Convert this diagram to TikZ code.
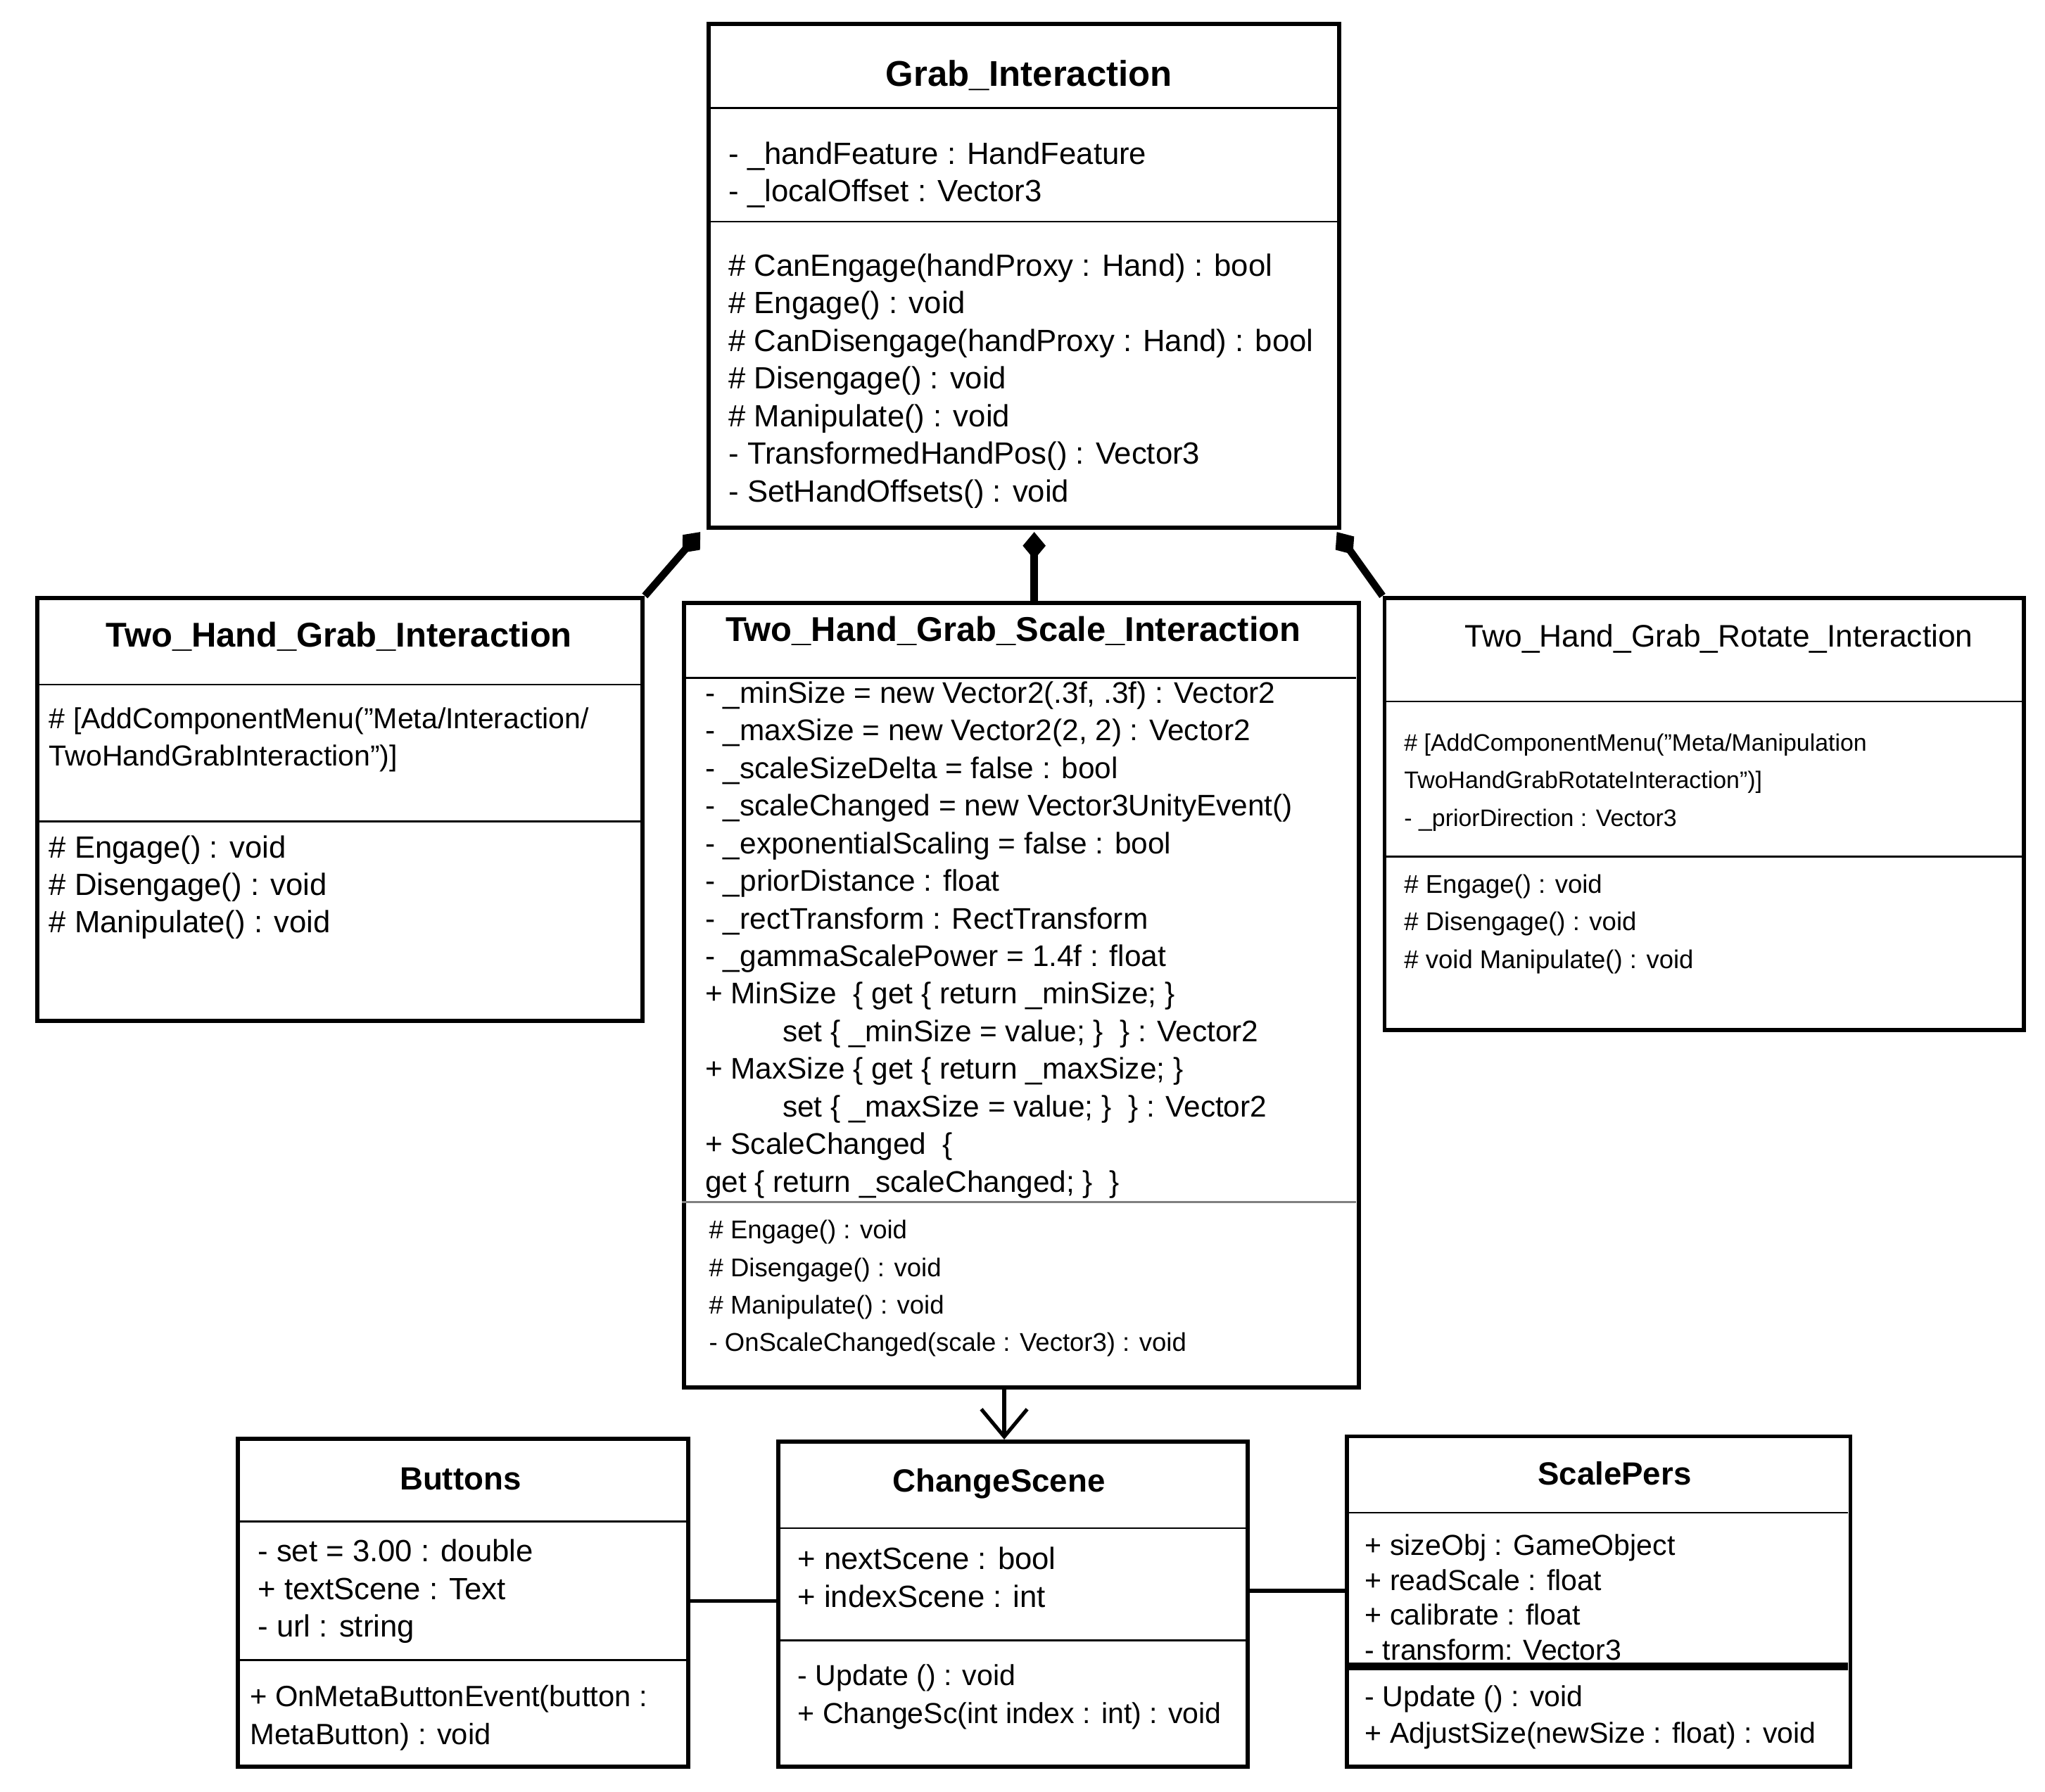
\documentclass[tikz,border=0pt]{standalone}
\usepackage{fontspec}
\setmainfont{Liberation Sans}
\usetikzlibrary{arrows.meta}
\begin{document}
\begin{tikzpicture}[x=0.01cm,y=-0.01cm,
    nodes={font=\fontsize{6.7}{8.2}\selectfont},
    box/.style={draw, line width=0.9pt, anchor=north west, inner sep=0pt},
    ttl/.style={font=\fontsize{7.8}{9}\selectfont\bfseries},
    txt/.style={anchor=north west, align=left, inner sep=0pt},
    small/.style={font=\fontsize{5.6}{8.2}\selectfont},
    comp/.style={line width=1.6pt, {Diamond[length=6pt,width=5pt]}-},
    link/.style={line width=0.8pt}]
  \useasboundingbox (0,0) rectangle (1568,1374);
  % Grab_Interaction
  \node[box, minimum width=4.83cm, minimum height=3.86cm] (grab) at (542,17) {};
  \draw (542,83) -- (1025,83) (542,170) -- (1025,170);
  \node[ttl] (grabT) at (789,58) {Grab\_Interaction};
  \node[txt] (grabA) at (558,108) {- \_handFeature : HandFeature\\- \_localOffset : Vector3};
  \node[txt] (grabM) at (558,194) {\# CanEngage(handProxy : Hand) : bool\\\# Engage() : void\\
    \# CanDisengage(handProxy : Hand) : bool\\\# Disengage() : void\\\# Manipulate() : void\\
    - TransformedHandPos() : Vector3\\- SetHandOffsets() : void};
  % Two_Hand_Grab_Interaction
  \node[box, minimum width=4.64cm, minimum height=3.24cm] (two) at (27,457) {};
  \draw (27,525) -- (491,525) (27,630) -- (491,630);
  \node[ttl, font=\fontsize{7.5}{9}\selectfont\bfseries] (twoT) at (260,488) {Two\_Hand\_Grab\_Interaction};
  \node[txt, font=\fontsize{6.3}{8.2}\selectfont] (twoA) at (37,542) {\# [AddComponentMenu("Meta/Interaction/\\TwoHandGrabInteraction")]};
  \node[txt] (twoM) at (37,640) {\# Engage() : void\\\# Disengage() : void\\\# Manipulate() : void};
  % Two_Hand_Grab_Scale_Interaction
  \node[box, minimum width=5.17cm, minimum height=6.01cm] (scale) at (523,461) {};
  \draw (523,520) -- (1040,520);
  \draw[gray] (523,922) -- (1040,922);
  \node[ttl, font=\fontsize{7.5}{9}\selectfont\bfseries] (scaleT) at (777,484) {Two\_Hand\_Grab\_Scale\_Interaction};
  \node[txt, font=\fontsize{6.5}{8.2}\selectfont] (scaleA) at (540,522) {- \_minSize = new Vector2(.3f, .3f) : Vector2\\
    - \_maxSize = new Vector2(2, 2) : Vector2\\- \_scaleSizeDelta = false : bool\\
    - \_scaleChanged = new Vector3UnityEvent()\\- \_exponentialScaling = false : bool\\
    - \_priorDistance : float\\- \_rectTransform : RectTransform\\
    - \_gammaScalePower = 1.4f : float\\+ MinSize \ \{ get \{ return \_minSize; \}\\
    \hspace{2.6em}set \{ \_minSize = value; \} \ \} : Vector2\\+ MaxSize \{ get \{ return \_maxSize; \}\\
    \hspace{2.6em}set \{ \_maxSize = value; \} \ \} : Vector2\\+ ScaleChanged \ \{\\
    get \{ return \_scaleChanged; \} \ \}};
  \node[txt, small] (scaleM) at (543,935) {\# Engage() : void\\\# Disengage() : void\\\# Manipulate() : void\\
    - OnScaleChanged(scale : Vector3) : void};
  % Two_Hand_Grab_Rotate_Interaction
  \node[box, minimum width=4.90cm, minimum height=3.31cm] (rot) at (1060,457) {};
  \draw (1060,538) -- (1550,538) (1060,657) -- (1550,657);
  \node[font=\fontsize{6.8}{9}\selectfont] (rotT) at (1318,490) {Two\_Hand\_Grab\_Rotate\_Interaction};
  \node[txt, small, font=\fontsize{5.2}{8.2}\selectfont] (rotA) at (1076,562) {\# [AddComponentMenu("Meta/Manipulation\\TwoHandGrabRotateInteraction")]\\- \_priorDirection : Vector3};
  \node[txt, small] (rotM) at (1076,670) {\# Engage() : void\\\# Disengage() : void\\\# void Manipulate() : void};
  % Buttons
  \node[box, minimum width=3.45cm, minimum height=2.51cm] (btn) at (181,1102) {};
  \draw (181,1167) -- (526,1167) (181,1273) -- (526,1273);
  \node[ttl, font=\fontsize{7}{9}\selectfont\bfseries] (btnT) at (353,1134) {Buttons};
  \node[txt] (btnA) at (197,1180) {- set = 3.00 : double\\+ textScene : Text\\- url : string};
  \node[txt, font=\fontsize{6.4}{8.2}\selectfont] (btnM) at (191,1292) {+ OnMetaButtonEvent(button :\\MetaButton) : void};
  % ChangeScene
  \node[box, minimum width=3.60cm, minimum height=2.49cm] (chg) at (595,1104) {};
  \draw (595,1172) -- (955,1172) (595,1258) -- (955,1258);
  \node[ttl, font=\fontsize{7}{9}\selectfont\bfseries] (chgT) at (766,1138) {ChangeScene};
  \node[txt] (chgA) at (611,1186) {+ nextScene : bool\\+ indexScene : int};
  \node[txt, font=\fontsize{6.3}{8.2}\selectfont] (chgM) at (611,1276) {- Update () : void\\+ ChangeSc(int index : int) : void};
  % ScalePers
  \node[box, minimum width=3.86cm, minimum height=2.53cm] (sp) at (1031,1100) {};
  \draw (1031,1160) -- (1417,1160);
  \draw[line width=1.6pt] (1031,1278) -- (1417,1278);
  \node[ttl, font=\fontsize{7}{9}\selectfont\bfseries] (spT) at (1238,1130) {ScalePers};
  \node[txt, font=\fontsize{6.3}{7.6}\selectfont] (spA) at (1046,1176) {+ sizeObj : GameObject\\+ readScale : float\\+ calibrate : float\\- transform: Vector3};
  \node[txt, font=\fontsize{6.3}{8}\selectfont] (spM) at (1046,1292) {- Update () : void\\+ AdjustSize(newSize : float) : void};
  % connectors
  \coordinate (g1) at (537,408);
  \coordinate (g2) at (793,408);
  \coordinate (g3) at (1025,408);
  \draw[comp] (g1) -- (two.north east);
  \draw[comp] (g2) -- (scale.north -| g2);
  \draw[comp] (g3) -- (rot.north west);
  \draw[link, -{Straight Barb[length=6pt,width=10pt]}] (scale.south -| 770,0) -- (chg.north -| 770,0);
  \draw[link] (btn.east |- 0,1228) -- (chg.west |- 0,1228);
  \draw[link] (chg.east |- 0,1220) -- (sp.west |- 0,1220);
\end{tikzpicture}
\end{document}
